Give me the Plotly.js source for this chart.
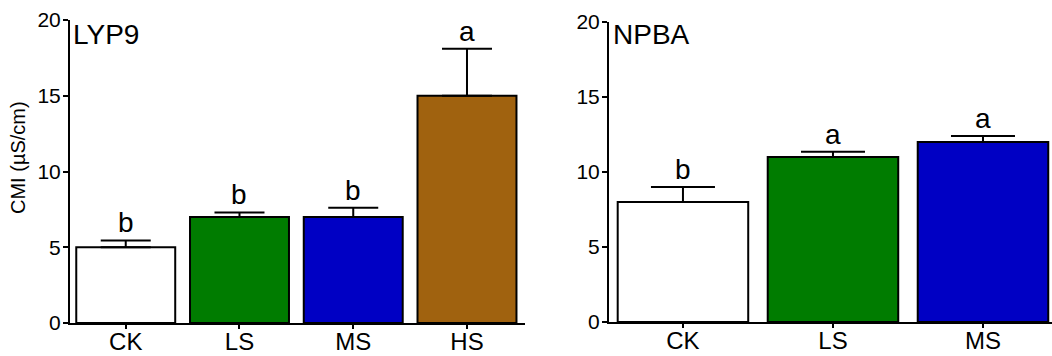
<!DOCTYPE html>
<html>
<head>
<meta charset="utf-8">
<script src="https://cdn.plot.ly/plotly-3.0.1.min.js"></script>
<style>html,body{margin:0;padding:0;background:#fff;}#chart{width:1052px;height:356px;}</style>
</head>
<body>
<div id="chart"></div>
<script>
// Data
const catsLeft = ["CK", "LS", "MS", "HS"];
const valsLeft = [5, 7, 7, 15];
const errLeft = [0.45, 0.3, 0.6, 3.1];
const lettersLeft = ["b", "b", "b", "a"];

const catsRight = ["CK", "LS", "MS"];
const valsRight = [8, 11, 12];
const errRight = [1.0, 0.35, 0.4];
const lettersRight = ["b", "a", "a"];

const yTicks = [0, 5, 10, 15, 20];
const panelTitles = ["LYP9", "NPBA"];
const yTitle = "CMI (µS/cm)";

const colorsLeft = ["#ffffff", "#007c00", "#0000c4", "#a0620f"];
const colorsRight = ["#ffffff", "#007c00", "#0000c4"];

const W = 1052, H = 356;
const px = v => v / W;
const py = v => 1 - v / H;
const FONT = "Arial, 'Liberation Sans', sans-serif";

const traces = [
  {
    type: "bar", x: catsLeft, y: valsLeft, xaxis: "x", yaxis: "y",
    width: 0.87,
    marker: {color: colorsLeft, line: {color: "#000", width: 2}},
    error_y: {type: "data", symmetric: false, array: errLeft, arrayminus: errLeft.map(() => 0),
              color: "#000", thickness: 2, width: 25},
    hoverinfo: "none"
  },
  {
    type: "bar", x: catsRight, y: valsRight, xaxis: "x2", yaxis: "y2",
    width: 0.87,
    marker: {color: colorsRight, line: {color: "#000", width: 2}},
    error_y: {type: "data", symmetric: false, array: errRight, arrayminus: errRight.map(() => 0),
              color: "#000", thickness: 2, width: 32},
    hoverinfo: "none"
  }
];

const axisX = {
  type: "category", showgrid: false, zeroline: false,
  showline: true, linecolor: "#000", linewidth: 2,
  ticks: "outside", ticklen: 4, tickwidth: 2, tickcolor: "#000",
  ticklabelstandoff: -8,
  tickfont: {family: FONT, size: 24, color: "#000"}
};
const axisY = {
  range: [0, 20], tickvals: yTicks, ticktext: yTicks.map(String),
  showgrid: false, zeroline: false,
  showline: true, linecolor: "#000", linewidth: 2,
  ticks: "outside", ticklen: 5, tickwidth: 2, tickcolor: "#000",
  ticklabelstandoff: -2,
  tickfont: {family: FONT, size: 21, color: "#000"}
};

const annotations = [];
catsLeft.forEach((c, i) => annotations.push({
  xref: "x", yref: "y", x: c, y: valsLeft[i] + errLeft[i], text: lettersLeft[i],
  showarrow: false, yanchor: "bottom", yshift: 0,
  font: {family: FONT, size: 28, color: "#000"}
}));
catsRight.forEach((c, i) => annotations.push({
  xref: "x2", yref: "y2", x: c, y: valsRight[i] + errRight[i], text: lettersRight[i],
  showarrow: false, yanchor: "bottom", yshift: 0,
  font: {family: FONT, size: 28, color: "#000"}
}));
annotations.push({
  xref: "paper", yref: "paper", x: px(71), y: py(17), xanchor: "left", yanchor: "top",
  text: panelTitles[0], showarrow: false, font: {family: FONT, size: 28, color: "#000"}
});
annotations.push({
  xref: "paper", yref: "paper", x: px(611), y: py(17), xanchor: "left", yanchor: "top",
  text: panelTitles[1], showarrow: false, font: {family: FONT, size: 28, color: "#000"}
});
annotations.push({
  xref: "paper", yref: "paper", x: px(18), y: py(158), xanchor: "center", yanchor: "middle",
  text: yTitle, textangle: -90, showarrow: false, font: {family: FONT, size: 20, color: "#000"}
});

const layout = {
  width: W, height: H,
  margin: {l: 0, r: 0, t: 0, b: 0},
  paper_bgcolor: "#fff", plot_bgcolor: "#fff",
  showlegend: false,
  xaxis: Object.assign({}, axisX, {domain: [px(70), px(525)], range: [-0.49, 3.51], anchor: "y"}),
  yaxis: Object.assign({}, axisY, {domain: [py(323), py(20)], anchor: "x"}),
  xaxis2: Object.assign({}, axisX, {domain: [px(609), 1], range: [-0.493, 2.46], anchor: "y2"}),
  yaxis2: Object.assign({}, axisY, {domain: [py(322), py(22)], anchor: "x2"}),
  annotations: annotations
};

Plotly.newPlot("chart", traces, layout, {staticPlot: true, displayModeBar: false});
</script>
</body>
</html>
